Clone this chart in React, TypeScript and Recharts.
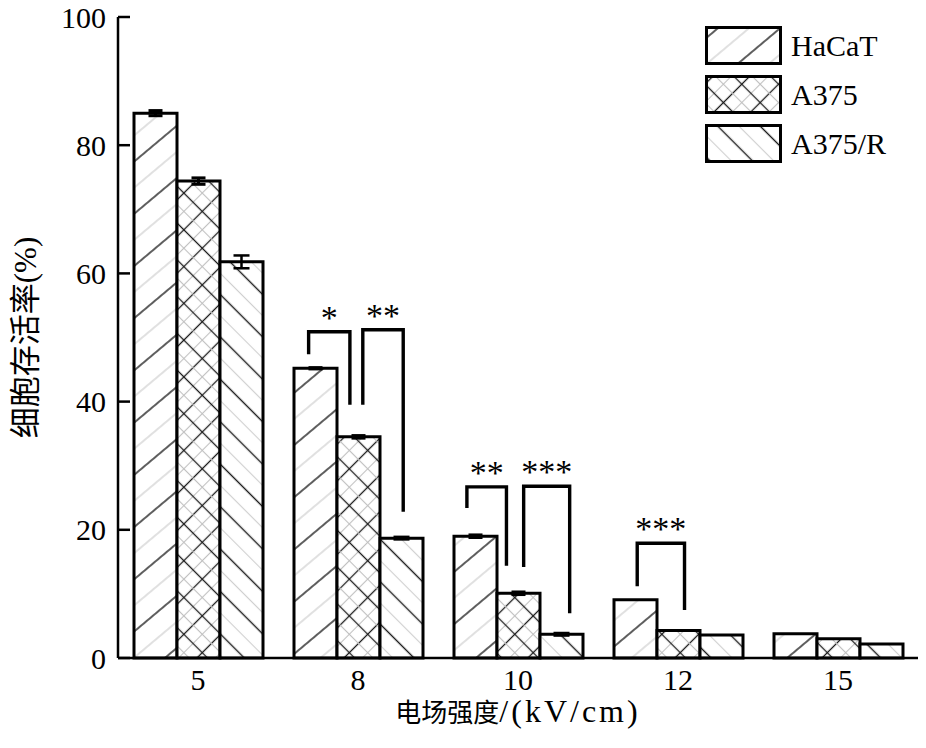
import React from 'react';
import { BarChart, Bar, XAxis, YAxis, ErrorBar, LabelList } from 'recharts';

const categories = ['5', '8', '10', '12', '15'];
const seriesNames = ['HaCaT', 'A375', 'A375/R'];
const hacat = [85.0, 45.2, 19.0, 9.1, 3.8];
const a375 = [74.4, 34.5, 10.1, 4.3, 3.0];
const a375r = [61.8, 18.7, 3.7, 3.6, 2.2];
const hacatErr = [0.4, 0.1, 0.2, 0, 0];
const a375Err = [0.5, 0.2, 0.2, 0, 0];
const a375rErr = [1.0, 0.2, 0.2, 0, 0];
const yTicks = [0, 20, 40, 60, 80, 100];

// significance brackets: legs given in bar widths from the group's first bar
const brackets = [
    { cat: '8', from: 0.34, to: 1.3, top: 50.9, fromEnd: 47.4, toEnd: 39.5, mark: '*' },
    { cat: '8', from: 1.6, to: 2.54, top: 51.2, fromEnd: 39.5, toEnd: 22.8, mark: '**' },
    { cat: '10', from: 0.3, to: 1.22, top: 26.7, fromEnd: 23.4, toEnd: 14.4, mark: '**' },
    { cat: '10', from: 1.62, to: 2.69, top: 26.8, fromEnd: 14.2, toEnd: 7.0, mark: '***' },
    { cat: '12', from: 0.54, to: 1.64, top: 17.9, fromEnd: 11.2, toEnd: 7.5, mark: '***' },
];

const data = categories.map((c, i) => ({
    cat: c,
    hacat: hacat[i],
    a375: a375[i],
    a375r: a375r[i],
    hacatErr: hacatErr[i],
    a375Err: a375Err[i],
    a375rErr: a375rErr[i],
}));

const SERIF = '"Liberation Serif", "Times New Roman", "Noto Sans CJK SC", serif';
const patternIds = ['pHacat', 'pA375', 'pA375r'];

const YTick = (props: any) => {
    const { x, y, payload } = props;
    const ax = x + 10; // tickSize 6 + tickMargin 4
    return (
        <g>
            <line x1={ax} x2={ax + 12} y1={y} y2={y} stroke="#000" strokeWidth={2.5} />
            <text x={ax - 12} y={y} dy="0.35em" textAnchor="end" fill="#000"
                style={{ fontSize: 30, fontFamily: SERIF }}>
                {payload.value}
            </text>
        </g>
    );
};

const XTick = (props: any) => {
    const { x, y, payload } = props;
    return (
        <text x={x} y={y} dy={19} textAnchor="middle" fill="#000" style={{ fontSize: 30, fontFamily: SERIF }}>
            {payload.value}
        </text>
    );
};

const YTitle = (props: any) => {
    const vb = props.viewBox || {};
    const cx = 25;
    const cy = vb.y + vb.height / 2;
    return (
        <text x={cx} y={cy} transform={`rotate(-90 ${cx} ${cy})`} textAnchor="middle" dy="0.35em"
            fill="#000" style={{ fontSize: 31, fontFamily: SERIF }}>
            细胞存活率(%)
        </text>
    );
};

const XTitle = (props: any) => {
    const vb = props.viewBox || {};
    return (
        <text x={vb.x + vb.width / 2} y={vb.y + 64} textAnchor="middle" fill="#000" style={{ fontFamily: SERIF }}>
            <tspan style={{ fontSize: 26 }}>电场强度</tspan>
            <tspan style={{ fontSize: 32, letterSpacing: 3 }}>/(kV/cm)</tspan>
        </text>
    );
};

const Brackets = (props: any) => {
    const vb = props.viewBox && props.viewBox.width != null ? props.viewBox : props;
    const index = props.index;
    const x = Number(vb.x), y = Number(vb.y), w = Number(vb.width), h = Number(vb.height);
    const v = hacat[index];
    if (!v || !isFinite(h)) return null;
    const base = y + h;
    const py = (val: number) => base - (val * h) / v;
    const items = brackets.filter((b) => b.cat === categories[index]);
    return (
        <g>
            {items.map((b, i) => {
                const x1 = x + b.from * w;
                const x2 = x + b.to * w;
                const top = py(b.top);
                return (
                    <g key={i}>
                        <polyline
                            points={`${x1},${py(b.fromEnd)} ${x1},${top} ${x2},${top} ${x2},${py(b.toEnd)}`}
                            fill="none" stroke="#000" strokeWidth={3.4}
                        />
                        <text x={(x1 + x2) / 2} y={top - 3} textAnchor="middle" fill="#000"
                            style={{ fontSize: 34, fontFamily: SERIF }}>
                            {b.mark}
                        </text>
                    </g>
                );
            })}
        </g>
    );
};

export default function App() {
    return (
        <div style={{ position: 'relative', width: 926, height: 748, background: '#fff' }}>
            <style>{'body{margin:0;}'}</style>
            <BarChart
                width={926}
                height={748}
                data={data}
                margin={{ top: 17, right: 8, left: 0, bottom: 20 }}
                barCategoryGap={16}
                barGap={0}
            >
                <defs>
                    <pattern id="pHacat" patternUnits="userSpaceOnUse" width={40} height={40} patternTransform="rotate(50)">
                        <rect width={40} height={40} fill="#fff" />
                        <line x1={10} y1={0} x2={10} y2={40} stroke="#1a1a1a" strokeWidth={1.4} />
                        <line x1={30} y1={0} x2={30} y2={40} stroke="#c8c8c8" strokeWidth={1.1} />
                    </pattern>
                    <pattern id="pA375" patternUnits="userSpaceOnUse" width={26} height={26} patternTransform="rotate(45)">
                        <rect width={26} height={26} fill="#fff" />
                        <line x1={6.5} y1={0} x2={6.5} y2={26} stroke="#1a1a1a" strokeWidth={1.3} />
                        <line x1={19.5} y1={0} x2={19.5} y2={26} stroke="#c0c0c0" strokeWidth={1.1} />
                        <line x1={0} y1={6.5} x2={26} y2={6.5} stroke="#1a1a1a" strokeWidth={1.3} />
                        <line x1={0} y1={19.5} x2={26} y2={19.5} stroke="#c0c0c0" strokeWidth={1.1} />
                    </pattern>
                    <pattern id="pA375r" patternUnits="userSpaceOnUse" width={30} height={30} patternTransform="rotate(-45)">
                        <rect width={30} height={30} fill="#fff" />
                        <line x1={7.5} y1={0} x2={7.5} y2={30} stroke="#1a1a1a" strokeWidth={1.4} />
                        <line x1={22.5} y1={0} x2={22.5} y2={30} stroke="#cfcfcf" strokeWidth={1.1} />
                    </pattern>
                </defs>
                <XAxis
                    dataKey="cat"
                    height={70}
                    axisLine={{ stroke: '#000', strokeWidth: 2.5 }}
                    tickLine={false}
                    tickSize={6}
                    tickMargin={7}
                    tick={<XTick />}
                    label={<XTitle />}
                />
                <YAxis
                    width={118}
                    domain={[0, 100]}
                    ticks={yTicks}
                    interval={0}
                    axisLine={{ stroke: '#000', strokeWidth: 2.5 }}
                    tickLine={false}
                    tickSize={6}
                    tickMargin={4}
                    tick={<YTick />}
                    label={<YTitle />}
                />
                <Bar dataKey="hacat" name={seriesNames[0]} fill="url(#pHacat)" stroke="#000" strokeWidth={3} isAnimationActive={false}>
                    <ErrorBar dataKey="hacatErr" width={7} stroke="#000" strokeWidth={3} />
                    <LabelList dataKey="hacat" content={<Brackets />} />
                </Bar>
                <Bar dataKey="a375" name={seriesNames[1]} fill="url(#pA375)" stroke="#000" strokeWidth={3} isAnimationActive={false}>
                    <ErrorBar dataKey="a375Err" width={7} stroke="#000" strokeWidth={3} />
                </Bar>
                <Bar dataKey="a375r" name={seriesNames[2]} fill="url(#pA375r)" stroke="#000" strokeWidth={3} isAnimationActive={false}>
                    <ErrorBar dataKey="a375rErr" width={8} stroke="#000" strokeWidth={2.5} />
                </Bar>
            </BarChart>
            <div style={{ position: 'absolute', left: 705, top: 21 }}>
                {seriesNames.map((n, i) => (
                    <div key={n} style={{ display: 'flex', alignItems: 'center', height: 49 }}>
                        <svg width={77} height={39} style={{ display: 'block' }}>
                            <rect x={1.5} y={1.5} width={74} height={36} fill={`url(#${patternIds[i]})`} stroke="#000" strokeWidth={3} />
                        </svg>
                        <span style={{ marginLeft: 9, fontSize: 30, fontFamily: SERIF, color: '#000', lineHeight: 1 }}>{n}</span>
                    </div>
                ))}
            </div>
        </div>
    );
}
